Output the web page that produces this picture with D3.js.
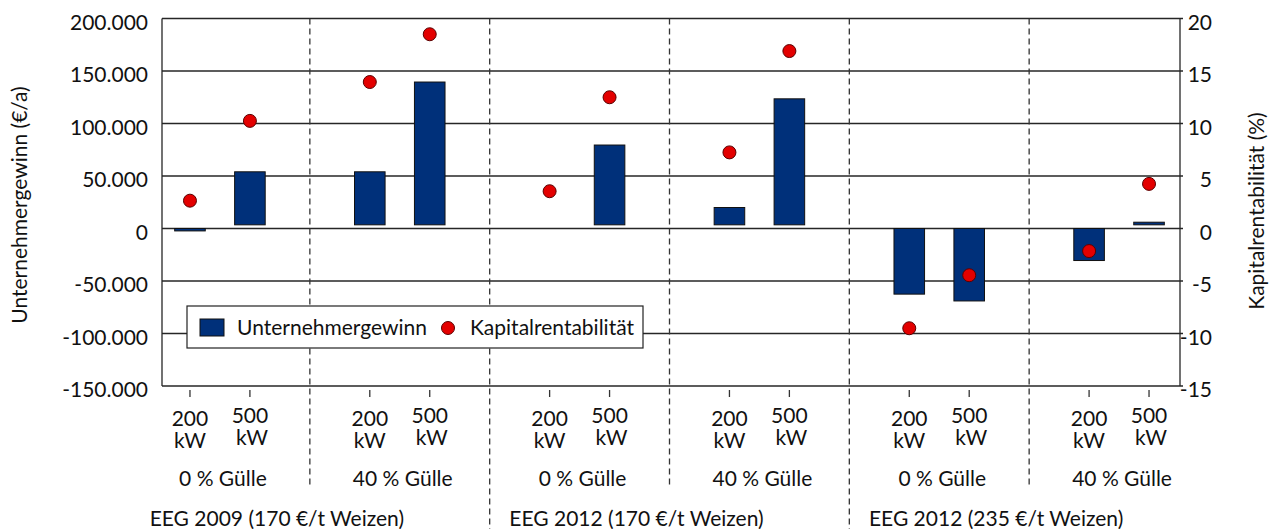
<!DOCTYPE html>
<html>
<head>
<meta charset="utf-8">
<script src="https://cdn.jsdelivr.net/npm/d3@7"></script>
<style>
  body { margin: 0; background: #fff; }
  svg { font-family: Lato, "Open Sans", sans-serif; }
</style>
</head>
<body>
<svg id="chart" width="1274" height="529"></svg>
<script>
// data
const eegGroups = ["EEG 2009 (170 €/t Weizen)", "EEG 2012 (170 €/t Weizen)", "EEG 2012 (235 €/t Weizen)"]
const guelleGroups = ["0 % Gülle", "40 % Gülle", "0 % Gülle", "40 % Gülle", "0 % Gülle", "40 % Gülle"]
const sizes = ["200", "500", "200", "500", "200", "500", "200", "500", "200", "500", "200", "500"]
const gewinn = [-2300, 54000, 54000, 139500, 3500, 79500, 20000, 123500, -62500, -69000, -30500, 6000]
const rentabilitaet = [2.65, 10.25, 13.95, 18.5, 3.55, 12.5, 7.25, 16.9, -9.5, -4.45, -2.15, 4.25]
const leftTicks = [-150000, -100000, -50000, 0, 50000, 100000, 150000, 200000]
const rightTicks = [-15, -10, -5, 0, 5, 10, 15, 20]
// positive bars in the original start slightly above zero
const barBase = 3500

const svg = d3.select("#chart")
const plotLeft = 162, plotRight = 1180, plotTop = 18.5, plotBottom = 386

// 17 slots: two bars per Gülle group, one empty slot between groups
const slotOf = i => Math.floor(i / 2) * 3 + (i % 2)
const x = d3.scaleBand()
    .domain(d3.range(17))
    .range([160, 1179])
    .paddingInner(0.49)
    .paddingOuter(0.245)
const cx = s => x(s) + x.bandwidth() / 2

const y = d3.scaleLinear().domain([-150000, 200000]).range([plotBottom, plotTop])
const y2 = d3.scaleLinear().domain([-15, 20]).range([plotBottom, plotTop])

const de = d3.formatLocale({decimal: ",", thousands: ".", grouping: [3], currency: ["", "€"], minus: "-"})
const fmt = de.format(",")

// gridlines
svg.append("g").selectAll("line")
    .data(leftTicks)
    .enter().append("line")
    .attr("x1", plotLeft).attr("x2", plotRight + 3)
    .attr("y1", d => y(d)).attr("y2", d => y(d))
    .style("stroke", "#262626")
    .style("stroke-width", 1.3)

// axis lines
svg.append("line").attr("x1", plotLeft).attr("x2", plotLeft).attr("y1", plotTop).attr("y2", plotBottom)
    .style("stroke", "#262626").style("stroke-width", 1.3)
svg.append("line").attr("x1", plotRight).attr("x2", plotRight).attr("y1", plotTop).attr("y2", plotBottom)
    .style("stroke", "#262626").style("stroke-width", 1.3)

// dashed separators
const seps = d3.range(5).map(g => ({slot: g * 3 + 2, long: g % 2 === 1}))
svg.append("g").selectAll("line")
    .data(seps)
    .enter().append("line")
    .attr("x1", d => cx(d.slot)).attr("x2", d => cx(d.slot))
    .attr("y1", plotTop)
    .attr("y2", d => d.long ? 529 : 486)
    .style("stroke", "#333")
    .style("stroke-width", 1.3)
    .style("stroke-dasharray", "6,4")

// left axis labels
svg.append("g")
    .attr("transform", "translate(" + plotLeft + ",0)")
    .call(d3.axisLeft(y).tickValues(leftTicks).tickSize(0).tickPadding(14).tickFormat(fmt))
    .call(g => g.select(".domain").remove())
    .selectAll("text")
    .style("font-size", "21px")
    .style("font-family", "Lato")
    .attr("fill", "#111")
    .attr("dy", "0.5em")

// right axis labels
svg.append("g")
    .attr("transform", "translate(" + plotRight + ",0)")
    .call(d3.axisRight(y2).tickValues(rightTicks).tickSize(0).tickFormat(de.format("d")))
    .call(g => g.select(".domain").remove())
    .selectAll("text")
    .style("font-size", "21px")
    .style("font-family", "Lato")
    .style("text-anchor", "end")
    .attr("x", 32)
    .attr("fill", "#111")
    .attr("dy", "0.5em")

// category tick marks
svg.append("g")
    .attr("transform", "translate(0,390)")
    .call(d3.axisBottom(x).tickValues(d3.range(12).map(slotOf)).tickSize(7).tickFormat(""))
    .call(g => g.select(".domain").remove())
    .selectAll("line")
    .style("stroke", "#333")
    .style("stroke-width", 1.3)

// size labels
const lab = svg.append("g").style("font-size", "21px").attr("fill", "#111").style("text-anchor", "middle")
sizes.forEach((s, i) => {
    const up = s === "500" ? 3 : 0
    lab.append("text").attr("x", cx(slotOf(i))).attr("y", 426 - up).text(s)
    lab.append("text").attr("x", cx(slotOf(i)) + (s === "500" ? 2 : 0)).attr("y", 448 - up).text("kW")
})
guelleGroups.forEach((gname, g) => {
    lab.append("text")
        .attr("x", (cx(g * 3) + cx(g * 3 + 1)) / 2 + 3)
        .attr("y", 486)
        .text(gname)
})
eegGroups.forEach((ename, k) => {
    lab.append("text")
        .attr("x", cx(k * 6 + 2) - 33)
        .attr("y", 526)
        .text(ename)
})

// bars
const barColor = "#00307a"
svg.append("g").selectAll("rect")
    .data(gewinn)
    .enter().append("rect")
    .attr("x", (d, i) => x(slotOf(i)))
    .attr("width", x.bandwidth())
    .attr("y", d => d >= 0 ? y(d) : y(0))
    .attr("height", d => d >= 0 ? Math.max(0, y(barBase) - y(d)) : y(d) - y(0))
    .style("fill", barColor)
    .style("stroke", "#111")
    .style("stroke-width", 1)

// points
svg.append("g").selectAll("circle")
    .data(rentabilitaet)
    .enter().append("circle")
    .attr("cx", (d, i) => cx(slotOf(i)))
    .attr("cy", d => y2(d))
    .attr("r", 6.5)
    .style("fill", "#e30000")
    .style("stroke", "#5a0000")
    .style("stroke-width", 1)

// legend
const lg = svg.append("g")
lg.append("rect").attr("x", 187).attr("y", 306).attr("width", 456).attr("height", 42)
    .style("fill", "#fff").style("stroke", "#222").style("stroke-width", 1.2)
lg.append("rect").attr("x", 200).attr("y", 319).attr("width", 24).attr("height", 17)
    .style("fill", barColor).style("stroke", "#111").style("stroke-width", 1)
lg.append("text").attr("x", 237).attr("y", 335).style("font-size", "21px").attr("fill", "#111").text("Unternehmergewinn")
lg.append("circle").attr("cx", 448).attr("cy", 328).attr("r", 6.5)
    .style("fill", "#e30000").style("stroke", "#5a0000").style("stroke-width", 1)
lg.append("text").attr("x", 470).attr("y", 335).style("font-size", "21px").attr("fill", "#111").text("Kapitalrentabilität")

// axis titles
svg.append("text")
    .attr("transform", "translate(20,205)rotate(-90)")
    .attr("dy", "0.35em")
    .style("text-anchor", "middle")
    .style("font-size", "21px")
    .attr("fill", "#111")
    .text("Unternehmergewinn (€/a)")
svg.append("text")
    .attr("transform", "translate(1257,211)rotate(-90)")
    .attr("dy", "0.35em")
    .style("text-anchor", "middle")
    .style("font-size", "21px")
    .attr("fill", "#111")
    .text("Kapitalrentabilität (%)")
</script>
</body>
</html>
